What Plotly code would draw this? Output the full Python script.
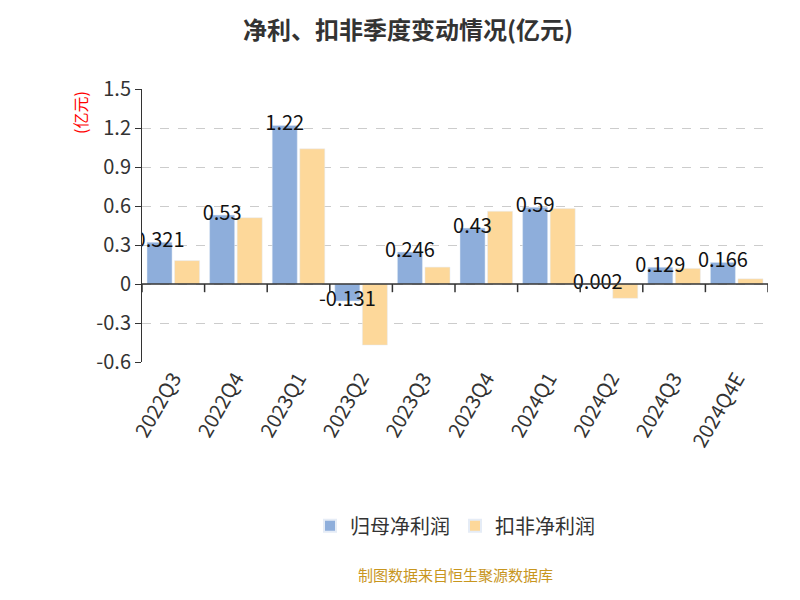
import plotly.graph_objects as go

quarters = ["2022Q3","2022Q4","2023Q1","2023Q2","2023Q3","2023Q4","2024Q1","2024Q2","2024Q3","2024Q4E"]
net_profit = [0.321,0.53,1.22,-0.131,0.246,0.43,0.59,0.002,0.129,0.166]
deducted = [0.18,0.51,1.04,-0.47,0.13,0.56,0.58,-0.11,0.12,0.04]
labels = ["0.321","0.53","1.22","-0.131","0.246","0.43","0.59","0.002","0.129","0.166"]

xs = list(range(len(quarters)))
fig = go.Figure()
fig.add_bar(x=xs, y=net_profit, name="归母净利润", marker_color="#8eaedb", offset=-0.42, width=0.4)
fig.add_bar(x=xs, y=deducted, name="扣非净利润", marker_color="#fdd89a", offset=0.02, width=0.4)
fig.add_scatter(x=[i-0.22 for i in xs], y=net_profit, text=labels, mode="text",
                textposition="middle center", textfont=dict(size=20, color="#111"),
                showlegend=False, hoverinfo="skip")
fig.update_layout(
    width=800, height=600, plot_bgcolor="white", paper_bgcolor="white",
    font=dict(family="Noto Sans CJK SC", color="#333"),
    title=dict(text="<b>净利、扣非季度变动情况(亿元)</b>", x=0.5, y=0.963, yanchor="middle", xanchor="center",
               font=dict(size=24, color="#333")),
    margin=dict(l=134, r=40, t=81, b=246),
    legend=dict(orientation="h", x=0.5, xanchor="center", y=-0.6, yanchor="middle", font=dict(size=20),
                itemsizing="constant"),
    xaxis=dict(tickmode="array", tickvals=xs, ticktext=quarters, tickangle=-60, range=[-0.5, 9.5],
               tickfont=dict(size=20), showline=False, ticks="", zeroline=False, showgrid=False),
    yaxis=dict(range=[-0.6, 1.5], tickfont=dict(size=20), showgrid=True, gridcolor="#ccc",
               griddash="dash", zeroline=False, showline=True, linecolor="#333", ticks="outside",
               ticklen=6, tickcolor="#333",
               tickvals=[-0.6,-0.3,0,0.3,0.6,0.9,1.2,1.5],
               ticktext=["-0.6","-0.3","0","0.3","0.6","0.9","1.2","1.5"]),
    annotations=[
        dict(text="(亿元)", xref="paper", yref="paper", x=-0.1, y=1.0, showarrow=False, textangle=-90,
             font=dict(size=16, color="red"), xanchor="center", yanchor="top"),
        dict(text="制图数据来自恒生聚源数据库", xref="paper", yref="paper", x=0.5, y=-0.78, showarrow=False,
             font=dict(size=15, color="#c8961e"), yanchor="middle"),
    ],
    shapes=[dict(type="line", xref="paper", yref="y", x0=0, x1=1, y0=0, y1=0, line=dict(color="#333", width=1.5))]
    + [dict(type="line", xref="x", yref="paper", x0=i+0.5, x1=i+0.5, y0=0.2857, y1=0.2857-0.03, line=dict(color="#333", width=1.5)) for i in range(-1, 10)],
)
fig.write_html("out.html")
